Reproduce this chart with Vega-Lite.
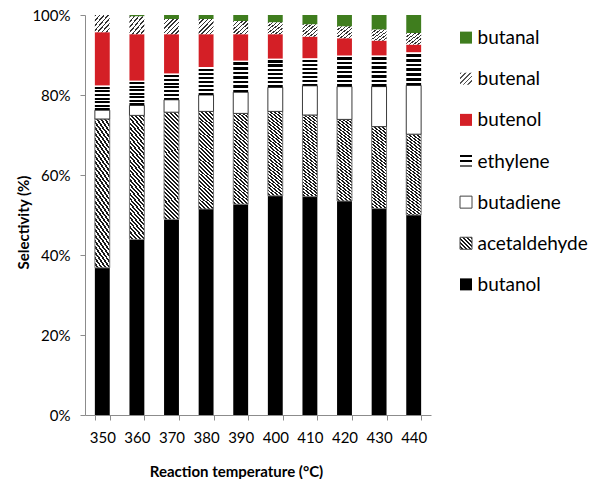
{
  "$schema": "https://vega.github.io/schema/vega-lite/v6.json",
  "padding": {"left": 16, "top": 8, "right": 0, "bottom": 0},
  "background": "white",
  "spacing": 27,
  "config": {
    "view": {"stroke": null},
    "font": "Lato",
    "axis": {
      "domainColor": "#8c8c8c",
      "tickColor": "#8c8c8c",
      "labelColor": "#000000",
      "labelFont": "Lato",
      "labelFontSize": 15,
      "titleFont": "Lato",
      "titleFontSize": 15,
      "titleFontWeight": "bold",
      "titleColor": "#000000",
      "grid": false,
      "tickSize": 5
    }
  },
  "data": {
    "values": [
      {"T": 350, "s": "butanol", "v": 36.8}, {"T": 350, "s": "acetaldehyde", "v": 37.2}, {"T": 350, "s": "butadiene", "v": 2.2}, {"T": 350, "s": "ethylene", "v": 6.2}, {"T": 350, "s": "butenol", "v": 13.3}, {"T": 350, "s": "butenal", "v": 4.3}, {"T": 350, "s": "butanal", "v": 0},
      {"T": 360, "s": "butanol", "v": 43.9}, {"T": 360, "s": "acetaldehyde", "v": 31.0}, {"T": 360, "s": "butadiene", "v": 2.5}, {"T": 360, "s": "ethylene", "v": 6.2}, {"T": 360, "s": "butenol", "v": 11.6}, {"T": 360, "s": "butenal", "v": 4.5}, {"T": 360, "s": "butanal", "v": 0.3},
      {"T": 370, "s": "butanol", "v": 48.9}, {"T": 370, "s": "acetaldehyde", "v": 26.8}, {"T": 370, "s": "butadiene", "v": 3.1}, {"T": 370, "s": "ethylene", "v": 6.6}, {"T": 370, "s": "butenol", "v": 9.8}, {"T": 370, "s": "butenal", "v": 3.8}, {"T": 370, "s": "butanal", "v": 1.0},
      {"T": 380, "s": "butanol", "v": 51.5}, {"T": 380, "s": "acetaldehyde", "v": 24.4}, {"T": 380, "s": "butadiene", "v": 4.1}, {"T": 380, "s": "ethylene", "v": 7.0}, {"T": 380, "s": "butenol", "v": 8.2}, {"T": 380, "s": "butenal", "v": 3.8}, {"T": 380, "s": "butanal", "v": 1.0},
      {"T": 390, "s": "butanol", "v": 52.7}, {"T": 390, "s": "acetaldehyde", "v": 22.7}, {"T": 390, "s": "butadiene", "v": 5.3}, {"T": 390, "s": "ethylene", "v": 7.9}, {"T": 390, "s": "butenol", "v": 6.6}, {"T": 390, "s": "butenal", "v": 3.3}, {"T": 390, "s": "butanal", "v": 1.5},
      {"T": 400, "s": "butanol", "v": 54.8}, {"T": 400, "s": "acetaldehyde", "v": 21.1}, {"T": 400, "s": "butadiene", "v": 6.0}, {"T": 400, "s": "ethylene", "v": 7.2}, {"T": 400, "s": "butenol", "v": 6.1}, {"T": 400, "s": "butenal", "v": 3.0}, {"T": 400, "s": "butanal", "v": 1.8},
      {"T": 410, "s": "butanol", "v": 54.6}, {"T": 410, "s": "acetaldehyde", "v": 20.4}, {"T": 410, "s": "butadiene", "v": 7.3}, {"T": 410, "s": "ethylene", "v": 6.9}, {"T": 410, "s": "butenol", "v": 5.4}, {"T": 410, "s": "butenal", "v": 3.1}, {"T": 410, "s": "butanal", "v": 2.3},
      {"T": 420, "s": "butanol", "v": 53.5}, {"T": 420, "s": "acetaldehyde", "v": 20.4}, {"T": 420, "s": "butadiene", "v": 8.2}, {"T": 420, "s": "ethylene", "v": 7.8}, {"T": 420, "s": "butenol", "v": 4.3}, {"T": 420, "s": "butenal", "v": 3.0}, {"T": 420, "s": "butanal", "v": 2.8},
      {"T": 430, "s": "butanol", "v": 51.6}, {"T": 430, "s": "acetaldehyde", "v": 20.5}, {"T": 430, "s": "butadiene", "v": 10.0}, {"T": 430, "s": "ethylene", "v": 7.8}, {"T": 430, "s": "butenol", "v": 3.7}, {"T": 430, "s": "butenal", "v": 2.8}, {"T": 430, "s": "butanal", "v": 3.6},
      {"T": 440, "s": "butanol", "v": 50.0}, {"T": 440, "s": "acetaldehyde", "v": 20.2}, {"T": 440, "s": "butadiene", "v": 12.2}, {"T": 440, "s": "ethylene", "v": 8.3}, {"T": 440, "s": "butenol", "v": 1.9}, {"T": 440, "s": "butenal", "v": 2.9}, {"T": 440, "s": "butanal", "v": 4.5}
    ]
  },
  "hconcat": [
    {
      "width": 346,
      "height": 400,
      "transform": [
        {"calculate": "indexof(['butanol','acetaldehyde','butadiene','ethylene','butenol','butenal','butanal'], datum.s)", "as": "o"}
      ],
      "mark": {"type": "bar", "strokeWidth": 1},
      "encoding": {
        "x": {
          "field": "T",
          "type": "ordinal",
          "scale": {"paddingInner": 0.57, "paddingOuter": 0.285},
          "axis": {"title": "Reaction temperature (°C)", "labelAngle": 0, "tickBand": "extent", "labelPadding": 10, "titlePadding": 19, "titleX": 151}
        },
        "y": {
          "field": "v",
          "type": "quantitative",
          "stack": "zero",
          "scale": {"domain": [0, 100], "nice": false},
          "axis": {"title": "Selectivity (%)", "values": [0, 20, 40, 60, 80, 100], "labelExpr": "datum.value + '%'", "labelPadding": 10, "titlePadding": 0, "titleY": 207}
        },
        "order": {"field": "o", "type": "quantitative"},
        "stroke": {
          "condition": [
            {"test": "datum.s === 'butadiene'", "value": "#3a3a3a"},
            {"test": "datum.s === 'acetaldehyde'", "value": "#7a7a7a"}
          ],
          "value": null
        },
        "fill": {
          "condition": [
            {"test": "datum.s === 'ethylene'", "value": {"gradient": "linear", "x1": 0, "y1": 0, "x2": 0, "y2": 1, "stops": [
              {"offset": 0, "color": "#ffffff"}, {"offset": 0.06, "color": "#ffffff"}, {"offset": 0.06, "color": "#000000"}, {"offset": 0.143, "color": "#000000"},
              {"offset": 0.143, "color": "#ffffff"}, {"offset": 0.203, "color": "#ffffff"}, {"offset": 0.203, "color": "#000000"}, {"offset": 0.286, "color": "#000000"},
              {"offset": 0.286, "color": "#ffffff"}, {"offset": 0.346, "color": "#ffffff"}, {"offset": 0.346, "color": "#000000"}, {"offset": 0.429, "color": "#000000"},
              {"offset": 0.429, "color": "#ffffff"}, {"offset": 0.489, "color": "#ffffff"}, {"offset": 0.489, "color": "#000000"}, {"offset": 0.571, "color": "#000000"},
              {"offset": 0.571, "color": "#ffffff"}, {"offset": 0.631, "color": "#ffffff"}, {"offset": 0.631, "color": "#000000"}, {"offset": 0.714, "color": "#000000"},
              {"offset": 0.714, "color": "#ffffff"}, {"offset": 0.774, "color": "#ffffff"}, {"offset": 0.774, "color": "#000000"}, {"offset": 0.857, "color": "#000000"},
              {"offset": 0.857, "color": "#ffffff"}, {"offset": 0.917, "color": "#ffffff"}, {"offset": 0.917, "color": "#000000"}, {"offset": 1, "color": "#000000"}
            ]}},
            {"test": "datum.s === 'acetaldehyde'", "value": {"gradient": "linear", "x1": 1, "y1": 0, "x2": 0.84, "y2": 1.12, "stops": [
              {"offset": 0, "color": "#1a1a1a"}, {"offset": 0.0167, "color": "#1a1a1a"}, {"offset": 0.0167, "color": "#ffffff"}, {"offset": 0.0333, "color": "#ffffff"},
              {"offset": 0.0333, "color": "#1a1a1a"}, {"offset": 0.05, "color": "#1a1a1a"}, {"offset": 0.05, "color": "#ffffff"}, {"offset": 0.0667, "color": "#ffffff"},
              {"offset": 0.0667, "color": "#1a1a1a"}, {"offset": 0.0833, "color": "#1a1a1a"}, {"offset": 0.0833, "color": "#ffffff"}, {"offset": 0.1, "color": "#ffffff"},
              {"offset": 0.1, "color": "#1a1a1a"}, {"offset": 0.1167, "color": "#1a1a1a"}, {"offset": 0.1167, "color": "#ffffff"}, {"offset": 0.1333, "color": "#ffffff"},
              {"offset": 0.1333, "color": "#1a1a1a"}, {"offset": 0.15, "color": "#1a1a1a"}, {"offset": 0.15, "color": "#ffffff"}, {"offset": 0.1667, "color": "#ffffff"},
              {"offset": 0.1667, "color": "#1a1a1a"}, {"offset": 0.1833, "color": "#1a1a1a"}, {"offset": 0.1833, "color": "#ffffff"}, {"offset": 0.2, "color": "#ffffff"},
              {"offset": 0.2, "color": "#1a1a1a"}, {"offset": 0.2167, "color": "#1a1a1a"}, {"offset": 0.2167, "color": "#ffffff"}, {"offset": 0.2333, "color": "#ffffff"},
              {"offset": 0.2333, "color": "#1a1a1a"}, {"offset": 0.25, "color": "#1a1a1a"}, {"offset": 0.25, "color": "#ffffff"}, {"offset": 0.2667, "color": "#ffffff"},
              {"offset": 0.2667, "color": "#1a1a1a"}, {"offset": 0.2833, "color": "#1a1a1a"}, {"offset": 0.2833, "color": "#ffffff"}, {"offset": 0.3, "color": "#ffffff"},
              {"offset": 0.3, "color": "#1a1a1a"}, {"offset": 0.3167, "color": "#1a1a1a"}, {"offset": 0.3167, "color": "#ffffff"}, {"offset": 0.3333, "color": "#ffffff"},
              {"offset": 0.3333, "color": "#1a1a1a"}, {"offset": 0.35, "color": "#1a1a1a"}, {"offset": 0.35, "color": "#ffffff"}, {"offset": 0.3667, "color": "#ffffff"},
              {"offset": 0.3667, "color": "#1a1a1a"}, {"offset": 0.3833, "color": "#1a1a1a"}, {"offset": 0.3833, "color": "#ffffff"}, {"offset": 0.4, "color": "#ffffff"},
              {"offset": 0.4, "color": "#1a1a1a"}, {"offset": 0.4167, "color": "#1a1a1a"}, {"offset": 0.4167, "color": "#ffffff"}, {"offset": 0.4333, "color": "#ffffff"},
              {"offset": 0.4333, "color": "#1a1a1a"}, {"offset": 0.45, "color": "#1a1a1a"}, {"offset": 0.45, "color": "#ffffff"}, {"offset": 0.4667, "color": "#ffffff"},
              {"offset": 0.4667, "color": "#1a1a1a"}, {"offset": 0.4833, "color": "#1a1a1a"}, {"offset": 0.4833, "color": "#ffffff"}, {"offset": 0.5, "color": "#ffffff"},
              {"offset": 0.5, "color": "#1a1a1a"}, {"offset": 0.5167, "color": "#1a1a1a"}, {"offset": 0.5167, "color": "#ffffff"}, {"offset": 0.5333, "color": "#ffffff"},
              {"offset": 0.5333, "color": "#1a1a1a"}, {"offset": 0.55, "color": "#1a1a1a"}, {"offset": 0.55, "color": "#ffffff"}, {"offset": 0.5667, "color": "#ffffff"},
              {"offset": 0.5667, "color": "#1a1a1a"}, {"offset": 0.5833, "color": "#1a1a1a"}, {"offset": 0.5833, "color": "#ffffff"}, {"offset": 0.6, "color": "#ffffff"},
              {"offset": 0.6, "color": "#1a1a1a"}, {"offset": 0.6167, "color": "#1a1a1a"}, {"offset": 0.6167, "color": "#ffffff"}, {"offset": 0.6333, "color": "#ffffff"},
              {"offset": 0.6333, "color": "#1a1a1a"}, {"offset": 0.65, "color": "#1a1a1a"}, {"offset": 0.65, "color": "#ffffff"}, {"offset": 0.6667, "color": "#ffffff"},
              {"offset": 0.6667, "color": "#1a1a1a"}, {"offset": 0.6833, "color": "#1a1a1a"}, {"offset": 0.6833, "color": "#ffffff"}, {"offset": 0.7, "color": "#ffffff"},
              {"offset": 0.7, "color": "#1a1a1a"}, {"offset": 0.7167, "color": "#1a1a1a"}, {"offset": 0.7167, "color": "#ffffff"}, {"offset": 0.7333, "color": "#ffffff"},
              {"offset": 0.7333, "color": "#1a1a1a"}, {"offset": 0.75, "color": "#1a1a1a"}, {"offset": 0.75, "color": "#ffffff"}, {"offset": 0.7667, "color": "#ffffff"},
              {"offset": 0.7667, "color": "#1a1a1a"}, {"offset": 0.7833, "color": "#1a1a1a"}, {"offset": 0.7833, "color": "#ffffff"}, {"offset": 0.8, "color": "#ffffff"},
              {"offset": 0.8, "color": "#1a1a1a"}, {"offset": 0.8167, "color": "#1a1a1a"}, {"offset": 0.8167, "color": "#ffffff"}, {"offset": 0.8333, "color": "#ffffff"},
              {"offset": 0.8333, "color": "#1a1a1a"}, {"offset": 0.85, "color": "#1a1a1a"}, {"offset": 0.85, "color": "#ffffff"}, {"offset": 0.8667, "color": "#ffffff"},
              {"offset": 0.8667, "color": "#1a1a1a"}, {"offset": 0.8833, "color": "#1a1a1a"}, {"offset": 0.8833, "color": "#ffffff"}, {"offset": 0.9, "color": "#ffffff"},
              {"offset": 0.9, "color": "#1a1a1a"}, {"offset": 0.9167, "color": "#1a1a1a"}, {"offset": 0.9167, "color": "#ffffff"}, {"offset": 0.9333, "color": "#ffffff"},
              {"offset": 0.9333, "color": "#1a1a1a"}, {"offset": 0.95, "color": "#1a1a1a"}, {"offset": 0.95, "color": "#ffffff"}, {"offset": 0.9667, "color": "#ffffff"},
              {"offset": 0.9667, "color": "#1a1a1a"}, {"offset": 0.9833, "color": "#1a1a1a"}, {"offset": 0.9833, "color": "#ffffff"}, {"offset": 1, "color": "#ffffff"}
            ]}},
            {"test": "datum.s === 'butenal'", "value": {"gradient": "linear", "x1": 0, "y1": 0, "x2": 1, "y2": 1, "stops": [
              {"offset": 0, "color": "#333333"}, {"offset": 0.05, "color": "#333333"}, {"offset": 0.05, "color": "#ffffff"}, {"offset": 0.1429, "color": "#ffffff"},
              {"offset": 0.1429, "color": "#333333"}, {"offset": 0.1929, "color": "#333333"}, {"offset": 0.1929, "color": "#ffffff"}, {"offset": 0.2857, "color": "#ffffff"},
              {"offset": 0.2857, "color": "#333333"}, {"offset": 0.3357, "color": "#333333"}, {"offset": 0.3357, "color": "#ffffff"}, {"offset": 0.4286, "color": "#ffffff"},
              {"offset": 0.4286, "color": "#333333"}, {"offset": 0.4786, "color": "#333333"}, {"offset": 0.4786, "color": "#ffffff"}, {"offset": 0.5714, "color": "#ffffff"},
              {"offset": 0.5714, "color": "#333333"}, {"offset": 0.6214, "color": "#333333"}, {"offset": 0.6214, "color": "#ffffff"}, {"offset": 0.7143, "color": "#ffffff"},
              {"offset": 0.7143, "color": "#333333"}, {"offset": 0.7643, "color": "#333333"}, {"offset": 0.7643, "color": "#ffffff"}, {"offset": 0.8571, "color": "#ffffff"},
              {"offset": 0.8571, "color": "#333333"}, {"offset": 0.9071, "color": "#333333"}, {"offset": 0.9071, "color": "#ffffff"}, {"offset": 1, "color": "#ffffff"}
            ]}}
          ],
          "field": "s",
          "type": "nominal",
          "scale": {
            "domain": ["butanal", "butenal", "butenol", "ethylene", "butadiene", "acetaldehyde", "butanol"],
            "range": ["#3f7d1e", "#9a9a9a", "#d41f26", "#555555", "#ffffff", "#7a7a7a", "#000000"]
          },
          "legend": null
        }
      }
    },
    {
      "width": 12,
      "height": 292,
      "transform": [{"filter": "datum.T === 350"}],
      "mark": {"type": "square", "size": 144, "filled": true, "opacity": 1, "strokeWidth": 1},
      "encoding": {
        "y": {
          "field": "s",
          "type": "nominal",
          "sort": ["butanal", "butenal", "butenol", "ethylene", "butadiene", "acetaldehyde", "butanol"],
          "scale": {"type": "point", "padding": 0.55},
          "axis": {"orient": "right", "title": null, "domain": false, "ticks": false, "labelPadding": 5, "labelFontSize": 19, "labelFont": "Lato", "labelColor": "#000000"}
        },
        "stroke": {
          "condition": [
            {"test": "datum.s === 'butadiene' || datum.s === 'acetaldehyde'", "value": "#444444"}
          ],
          "value": null
        },
        "fill": {
          "condition": [
            {"test": "datum.s === 'ethylene'", "value": {"gradient": "linear", "x1": 0, "y1": 0, "x2": 0, "y2": 1, "stops": [
              {"offset": 0, "color": "#000000"}, {"offset": 0.2, "color": "#000000"}, {"offset": 0.2, "color": "#ffffff"}, {"offset": 0.4, "color": "#ffffff"},
              {"offset": 0.4, "color": "#000000"}, {"offset": 0.6, "color": "#000000"}, {"offset": 0.6, "color": "#ffffff"}, {"offset": 0.8, "color": "#ffffff"},
              {"offset": 0.8, "color": "#666666"}, {"offset": 1, "color": "#666666"}
            ]}},
            {"test": "datum.s === 'acetaldehyde'", "value": {"gradient": "linear", "x1": 1, "y1": 0, "x2": 0, "y2": 1, "stops": [
              {"offset": 0, "color": "#1a1a1a"}, {"offset": 0.0833, "color": "#1a1a1a"}, {"offset": 0.0833, "color": "#ffffff"}, {"offset": 0.1667, "color": "#ffffff"},
              {"offset": 0.1667, "color": "#1a1a1a"}, {"offset": 0.25, "color": "#1a1a1a"}, {"offset": 0.25, "color": "#ffffff"}, {"offset": 0.3333, "color": "#ffffff"},
              {"offset": 0.3333, "color": "#1a1a1a"}, {"offset": 0.4167, "color": "#1a1a1a"}, {"offset": 0.4167, "color": "#ffffff"}, {"offset": 0.5, "color": "#ffffff"},
              {"offset": 0.5, "color": "#1a1a1a"}, {"offset": 0.5833, "color": "#1a1a1a"}, {"offset": 0.5833, "color": "#ffffff"}, {"offset": 0.6667, "color": "#ffffff"},
              {"offset": 0.6667, "color": "#1a1a1a"}, {"offset": 0.75, "color": "#1a1a1a"}, {"offset": 0.75, "color": "#ffffff"}, {"offset": 0.8333, "color": "#ffffff"},
              {"offset": 0.8333, "color": "#1a1a1a"}, {"offset": 0.9167, "color": "#1a1a1a"}, {"offset": 0.9167, "color": "#ffffff"}, {"offset": 1, "color": "#ffffff"}
            ]}},
            {"test": "datum.s === 'butenal'", "value": {"gradient": "linear", "x1": 0, "y1": 0, "x2": 1, "y2": 1, "stops": [
              {"offset": 0, "color": "#555555"}, {"offset": 0.07, "color": "#555555"}, {"offset": 0.07, "color": "#ffffff"}, {"offset": 0.2, "color": "#ffffff"},
              {"offset": 0.2, "color": "#555555"}, {"offset": 0.27, "color": "#555555"}, {"offset": 0.27, "color": "#ffffff"}, {"offset": 0.4, "color": "#ffffff"},
              {"offset": 0.4, "color": "#555555"}, {"offset": 0.47, "color": "#555555"}, {"offset": 0.47, "color": "#ffffff"}, {"offset": 0.6, "color": "#ffffff"},
              {"offset": 0.6, "color": "#555555"}, {"offset": 0.67, "color": "#555555"}, {"offset": 0.67, "color": "#ffffff"}, {"offset": 0.8, "color": "#ffffff"},
              {"offset": 0.8, "color": "#555555"}, {"offset": 0.87, "color": "#555555"}, {"offset": 0.87, "color": "#ffffff"}, {"offset": 1, "color": "#ffffff"}
            ]}}
          ],
          "field": "s",
          "type": "nominal",
          "scale": {
            "domain": ["butanal", "butenal", "butenol", "ethylene", "butadiene", "acetaldehyde", "butanol"],
            "range": ["#3f7d1e", "#9a9a9a", "#d41f26", "#555555", "#ffffff", "#7a7a7a", "#000000"]
          },
          "legend": null
        }
      }
    }
  ]
}
